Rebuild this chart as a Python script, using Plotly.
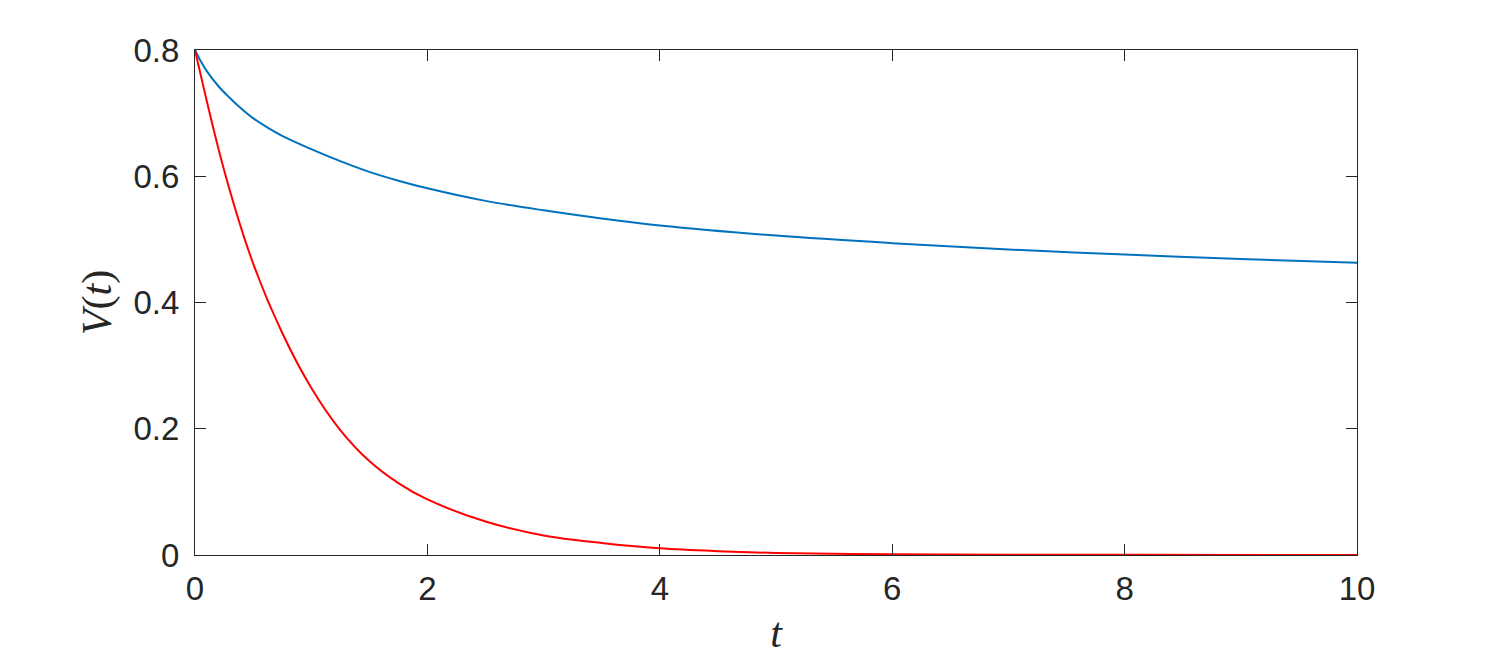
import plotly.graph_objects as go

# Blue curve V(t)
t_blue = [0, 0.05, 0.1, 0.2, 0.3, 0.4, 0.5, 0.625, 0.75, 1.0, 1.25, 1.5, 1.75, 2.0, 2.5, 3.0, 3.5, 4.0, 5.0, 6.0, 7.0, 8.0, 9.0, 10]
v_blue = [0.8, 0.782, 0.767, 0.743, 0.724, 0.707, 0.692, 0.677, 0.664, 0.643, 0.624, 0.607, 0.593, 0.581, 0.561, 0.546, 0.533, 0.522, 0.506, 0.494, 0.484, 0.476, 0.469, 0.463]

# Red curve V(t)
t_red = [0, 0.25, 0.5, 0.75, 1.0, 1.25, 1.5, 1.75, 2.0, 2.5, 3.0, 3.5, 4.0, 4.5, 5.0, 6.0, 7.0, 8.0, 10]
v_red = [0.8, 0.61, 0.462, 0.352, 0.265, 0.198, 0.149, 0.114, 0.088, 0.053, 0.031, 0.019, 0.0105, 0.006, 0.0033, 0.0012, 0.0005, 0.0002, 0.0001]

x_ticks = [0, 2, 4, 6, 8, 10]
y_ticks = [0, 0.2, 0.4, 0.6, 0.8]
y_ticktext = ["0", "0.2", "0.4", "0.6", "0.8"]

fig = go.Figure()
fig.add_trace(go.Scatter(x=t_blue, y=v_blue, mode="lines",
                         line=dict(color="#0072BD", width=2, shape="spline", smoothing=1.0),
                         showlegend=False))
fig.add_trace(go.Scatter(x=t_red, y=v_red, mode="lines",
                         line=dict(color="#FF0000", width=2, shape="spline", smoothing=1.0),
                         showlegend=False, cliponaxis=False))

axis_common = dict(
    showgrid=False, zeroline=False, showline=True, linecolor="#262626", linewidth=1,
    mirror="ticks", ticks="inside", ticklen=11, tickwidth=1, tickcolor="#262626",
    tickfont=dict(family="Liberation Sans, Arial, sans-serif", size=33, color="#262626"),
)

title_font = dict(family="Liberation Serif, DejaVu Serif, serif", size=42, color="#262626")

fig.update_layout(
    width=1500, height=666,
    margin=dict(l=187, r=151, t=42, b=119),
    paper_bgcolor="white", plot_bgcolor="white",
    xaxis=dict(range=[0, 10], tickvals=x_ticks, ticklabelstandoff=4,
               title=dict(text="<i>t</i>", standoff=12, font=title_font),
               **axis_common),
    yaxis=dict(range=[0, 0.8], tickvals=y_ticks, ticktext=y_ticktext, ticklabelstandoff=8,
               title=dict(text="<i>V</i>(<i>t</i>)", standoff=8, font=title_font),
               **axis_common),
)

fig.write_html("out.html")
